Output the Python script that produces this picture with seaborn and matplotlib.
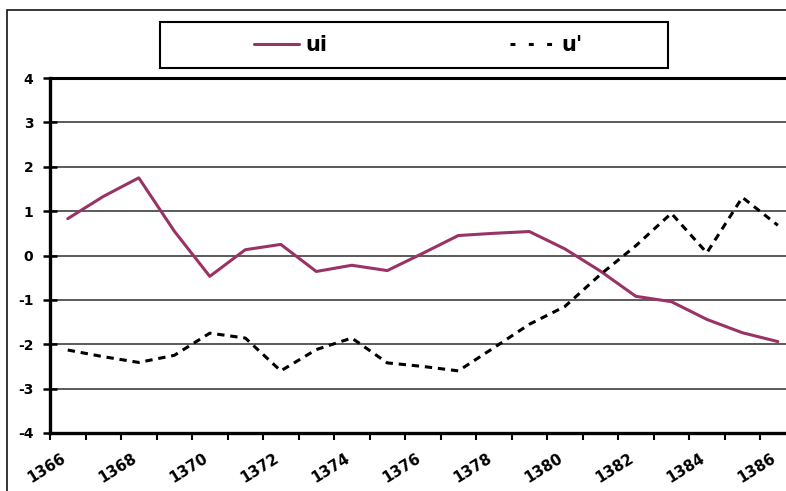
import matplotlib
matplotlib.use("Agg")
import matplotlib.pyplot as plt
from matplotlib.patches import Rectangle
from matplotlib.lines import Line2D
from matplotlib.transforms import ScaledTranslation
import seaborn as sns
import pandas as pd
import numpy as np

years = list(range(1366, 1387))
ui = [0.83, 1.33, 1.75, 0.55, -0.47, 0.13, 0.25, -0.36, -0.22, -0.34, 0.05,
      0.45, 0.50, 0.54, 0.15, -0.35, -0.92, -1.04, -1.44, -1.74, -1.94]
u_prime = [-2.13, -2.28, -2.41, -2.25, -1.75, -1.86, -2.6, -2.12, -1.86, -2.42, -2.5,
           -2.6, -2.08, -1.55, -1.15, -0.43, 0.22, 0.95, 0.06, 1.31, 0.68]
y_ticks = [-4, -3, -2, -1, 0, 1, 2, 3, 4]
labels = ["ui", "u'"]

sns.set_style("white")
plt.rcParams["font.family"] = ["DejaVu Sans"]
plt.rcParams["text.color"] = "black"
plt.rcParams["xtick.color"] = "black"
plt.rcParams["ytick.color"] = "black"

W, H = 786, 491
fig = plt.figure(figsize=(W / 100, H / 100), dpi=100)

def fx(px):
    return px / W

def fy(py):
    return 1 - py / H

# outer chart frame
fig.patches.append(Rectangle((fx(7), fy(600)), fx(900), fy(10) - fy(600),
                             transform=fig.transFigure, fill=False,
                             edgecolor="black", linewidth=1.1, zorder=0))

left, right, top, bottom = 50, 795.6, 78, 433
ax = fig.add_axes([fx(left), fy(bottom), fx(right) - fx(left), fy(top) - fy(bottom)])

UI_COLOR = "#993366"
df = pd.DataFrame({"pos": np.arange(len(years)), "ui": ui, "u_prime": u_prime})
sns.lineplot(data=df, x="pos", y="ui", ax=ax, color=UI_COLOR, linewidth=2.2,
             legend=False)
sns.lineplot(data=df, x="pos", y="u_prime", ax=ax, color="black", linewidth=2.2,
             legend=False)
ax.lines[1].set_dashes([2.4, 1.9])

ax.set_xlim(-0.5, len(years) - 0.5)
ax.set_ylim(-4, 4)
ax.set_xlabel("")
ax.set_ylabel("")

# gridlines
ax.set_yticks(y_ticks)
ax.yaxis.grid(True, color="#5a5a5a", linewidth=1.4)
ax.xaxis.grid(False)
ax.set_yticklabels([str(v) for v in y_ticks], fontsize=10, fontweight="bold",
                   color="black")
ax.tick_params(axis="y", which="major", direction="inout", length=10, width=1.8,
               color="black", pad=7, left=True)

# category axis: labels every 2 categories, ticks at category boundaries
ax.set_xticks(np.arange(0, len(years), 2))
ax.set_xticklabels([str(y) for y in years[::2]], rotation=32, ha="right",
                   va="top", rotation_mode="anchor", fontsize=10.8,
                   fontweight="bold", color="black")
ax.tick_params(axis="x", which="major", length=0, pad=13)
off = ScaledTranslation(-7 / 100, 0, fig.dpi_scale_trans)
for lab in ax.get_xticklabels():
    lab.set_transform(lab.get_transform() + off)
ax.set_xticks(np.arange(-0.5, len(years), 1), minor=True)
ax.tick_params(axis="x", which="minor", direction="out", length=5, width=1.5,
               color="black", bottom=True)

for s in ["left", "bottom", "top"]:
    ax.spines[s].set_visible(True)
    ax.spines[s].set_color("black")
ax.spines["left"].set_linewidth(2.4)
ax.spines["bottom"].set_linewidth(2.4)
ax.spines["top"].set_linewidth(2.2)
ax.spines["right"].set_visible(False)

# legend box
lx0, ly0, lx1, ly1 = 160, 22, 668, 68
fig.patches.append(Rectangle((fx(lx0), fy(ly1)), fx(lx1) - fx(lx0), fy(ly0) - fy(ly1),
                             transform=fig.transFigure, fill=True, facecolor="white",
                             edgecolor="black", linewidth=1.5, zorder=1))
handles = [Line2D([], [], color=UI_COLOR, linewidth=2.2),
           Line2D([], [], color="black", linewidth=2.2, dashes=[1.6, 4.4])]
leg = fig.legend(handles, labels, loc="center left",
                 bbox_to_anchor=(fx(254), fy(45)), borderaxespad=0, borderpad=0,
                 ncol=2, frameon=False, handlelength=2.15, handletextpad=0.3,
                 columnspacing=8.8, prop={"weight": "bold", "size": 15})
leg.set_zorder(2)
for t in leg.get_texts():
    t.set_color("black")

fig.savefig("out.png", dpi=100)
